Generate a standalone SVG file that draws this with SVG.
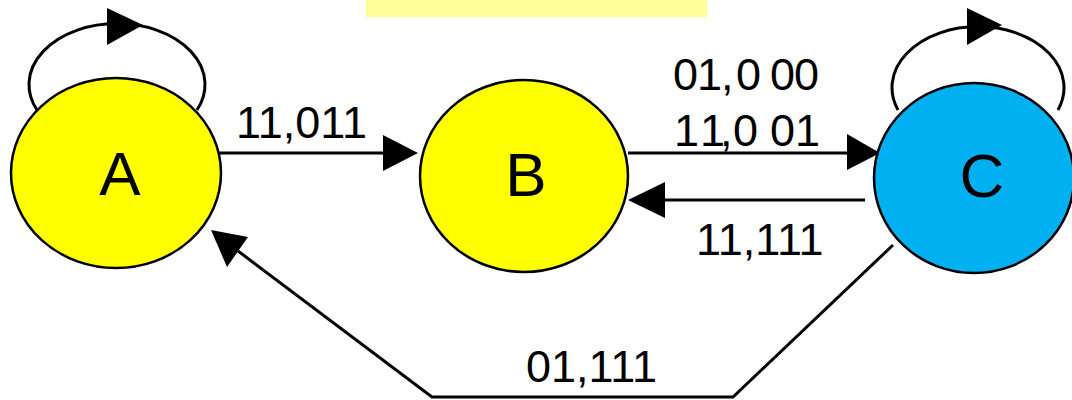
<svg xmlns="http://www.w3.org/2000/svg" width="1072" height="400" viewBox="0 0 1072 400">
  <style>
    .node { stroke: #000; stroke-width: 2.5; }
    .yellow { fill: #FFFF00; }
    .blue { fill: #00B0F0; }
    .edge { fill: none; stroke: #000; stroke-width: 3; }
    .head { fill: #000; stroke: none; }
    .name { font-family: "Liberation Sans", Arial, sans-serif; font-size: 62px; fill: #000; text-anchor: middle; }
    .lbl { font-family: "Liberation Sans", Arial, sans-serif; font-size: 45px; fill: #000; }
  </style>

  <!-- title band -->
  <rect x="366" y="0" width="341" height="17" fill="#FFFF99"/>

  <!-- connectors -->
  <g id="connectors">
    <!-- self loop on A -->
    <path class="edge" d="M 37 110 A 88 61 0 1 1 197 110"/>
    <polygon class="head" points="107,8 143,25 107,45"/>
    <!-- self loop on C -->
    <path class="edge" d="M 898 110 A 86 61 0 1 1 1058 110"/>
    <polygon class="head" points="967,8 1002,25 967,45"/>
    <!-- A to B -->
    <line class="edge" x1="216" y1="153" x2="386" y2="153"/>
    <polygon class="head" points="383,135 418,153 383,171"/>
    <!-- B to C -->
    <line class="edge" x1="628" y1="153" x2="850" y2="153"/>
    <polygon class="head" points="847,134 880,153 847,170"/>
    <!-- C to B -->
    <line class="edge" x1="865" y1="200" x2="662" y2="200"/>
    <polygon class="head" points="628,200 665,182 665,218"/>
    <!-- C back to A along the bottom -->
    <polyline class="edge" points="893,245 733,397 432,397 238,251"/>
    <polygon class="head" points="211,230 248,237 227,267"/>
  </g>

  <g id="node-A">
    <ellipse class="node yellow" cx="116" cy="173" rx="105" ry="95"/>
    <text class="name" x="120" y="195">A</text>
  </g>
  <g id="node-B">
    <ellipse class="node yellow" cx="524" cy="176" rx="104" ry="96"/>
    <text class="name" x="526" y="196">B</text>
  </g>
  <g id="node-C">
    <ellipse class="node blue" cx="974" cy="178" rx="100" ry="95"/>
    <text class="name" x="982" y="197">C</text>
  </g>

  <!-- edge labels -->
  <g id="labels">
    <text class="lbl" x="236" y="138">11,011</text>
    <text class="lbl" x="673 697 721 736 770 794" y="90">01,000</text>
    <text class="lbl" x="674 700 720 733 770 795" y="146">11,001</text>
    <text class="lbl" x="696" y="255">11,111</text>
    <text class="lbl" x="526" y="382">01,111</text>
  </g>
</svg>
